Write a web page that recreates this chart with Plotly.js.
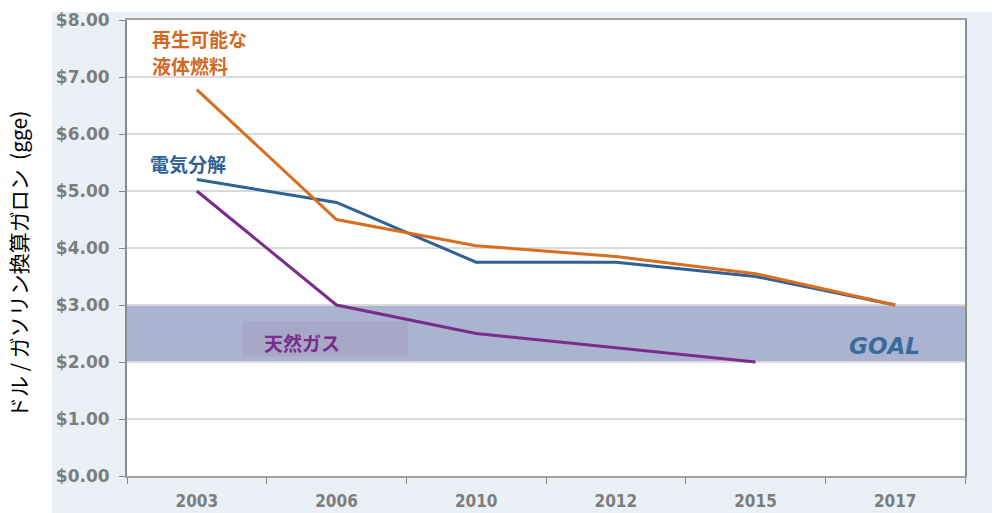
<!DOCTYPE html>
<html>
<head>
<meta charset="utf-8">
<script src="https://cdn.plot.ly/plotly-3.0.1.min.js"></script>
<style>
  html, body { margin: 0; padding: 0; background: #ffffff; }
  #chart { width: 992px; height: 513px; }
</style>
</head>
<body>
<div id="chart"></div>
<script>
// years on the x axis
var years = ['2003', '2006', '2010', '2012', '2015', '2017'];

// cost per gallon of gasoline equivalent
var renewableLiquid = [6.78, 4.5, 4.04, 3.85, 3.55, 3.0];
var electrolysis = [5.2, 4.8, 3.75, 3.75, 3.5, 3.0];
var naturalGas = [5.0, 3.0, 2.5, 2.25, 2.0, null];

// target band
var goalLow = 2.0;
var goalHigh = 3.0;

var yTicks = [0, 1, 2, 3, 4, 5, 6, 7, 8];

window.onload = buildChart;

function makeLine(yValues, color, name) {
    return {
        x: years,
        y: yValues,
        type: 'scatter',
        mode: 'lines',
        name: name,
        line: {color: color, width: 3},
        hoverinfo: 'x+y'
    };
}

function buildChart() {
    var data = [
        makeLine(electrolysis, '#2f6197', '電気分解'),
        makeLine(naturalGas, '#7a2c8c', '天然ガス'),
        makeLine(renewableLiquid, '#d86e20', '再生可能な液体燃料')
    ];

    var labelFont = {family: 'Noto Sans CJK JP, sans-serif', size: 19, weight: 'bold'};

    var layout = {
        width: 992,
        height: 513,
        margin: {l: 127, r: 27, t: 20, b: 37},
        paper_bgcolor: '#eaf0f6',
        plot_bgcolor: '#ffffff',
        showlegend: false,
        xaxis: {
            type: 'category',
            range: [-0.5, 5.5],
            tickson: 'boundaries',
            ticks: 'outside',
            ticklen: 6,
            tickcolor: '#888888',
            showgrid: false,
            showline: true,
            linecolor: '#a0a0a0',
            linewidth: 2,
            mirror: true,
            ticklabelstandoff: 9,
            tickfont: {family: 'DejaVu Sans Condensed, sans-serif', size: 17, color: '#7d7d7d', weight: 'bold'}
        },
        yaxis: {
            range: [0, 8],
            tickvals: yTicks,
            tickformat: '$.2f',
            ticks: 'outside',
            ticklen: 6,
            tickcolor: '#888888',
            showline: true,
            linecolor: '#8c8c8c',
            linewidth: 2,
            mirror: true,
            gridcolor: '#dadada',
            gridwidth: 2,
            zeroline: false,
            ticklabelstandoff: 6,
            tickfont: {family: 'DejaVu Sans, sans-serif', size: 17, color: '#7d7d7d', weight: 'bold'}
        },
        shapes: [
            // goal band
            {type: 'rect', xref: 'paper', yref: 'y', x0: 0, x1: 1, y0: goalLow, y1: goalHigh,
             fillcolor: '#aab4d1', line: {width: 0}, layer: 'below'},
            {type: 'line', xref: 'paper', yref: 'y', x0: 0, x1: 1, y0: goalLow, y1: goalLow,
             line: {color: '#9a9a9a', width: 2, dash: 'dot'}, layer: 'below'},
            // box behind the natural gas label
            {type: 'rect', xref: 'paper', yref: 'paper', x0: 0.138, x1: 0.335, y0: 0.262, y1: 0.340,
             fillcolor: '#a6a8c6', line: {width: 0}, layer: 'below'},
            // white page edges
            {type: 'rect', xref: 'paper', yref: 'paper', x0: -0.2, x1: 1.1, y0: 1.0175, y1: 1.1,
             fillcolor: '#ffffff', line: {width: 0}, layer: 'below'},
            {type: 'rect', xref: 'paper', yref: 'paper', x0: -0.2, x1: -0.0895, y0: -0.2, y1: 1.1,
             fillcolor: '#ffffff', line: {width: 0}, layer: 'below'}
        ],
        annotations: [
            {xref: 'paper', yref: 'paper', x: -0.130, y: 0.463, xanchor: 'center', yanchor: 'middle',
             textangle: -90, text: 'ドル / ガソリン換算ガロン  (gge)', showarrow: false,
             font: {family: 'Noto Sans CJK JP, sans-serif', size: 21, color: '#000000'}},
            {xref: 'paper', yref: 'paper', x: 0.027, y: 0.960, xanchor: 'left', yanchor: 'middle',
             text: '再生可能な', showarrow: false, font: Object.assign({color: '#d2691e'}, labelFont)},
            {xref: 'paper', yref: 'paper', x: 0.027, y: 0.901, xanchor: 'left', yanchor: 'middle',
             text: '液体燃料', showarrow: false, font: Object.assign({color: '#d2691e'}, labelFont)},
            {xref: 'paper', yref: 'paper', x: 0.025, y: 0.686, xanchor: 'left', yanchor: 'middle',
             text: '電気分解', showarrow: false, font: Object.assign({color: '#2f6197'}, labelFont)},
            {xref: 'paper', yref: 'paper', x: 0.161, y: 0.292, xanchor: 'left', yanchor: 'middle',
             text: '天然ガス', showarrow: false, font: Object.assign({color: '#7a2c8c'}, labelFont)},
            {xref: 'paper', yref: 'paper', x: 0.904, y: 0.285, xanchor: 'center', yanchor: 'middle',
             text: '<i>GOAL</i>', showarrow: false,
             font: {family: 'DejaVu Sans, sans-serif', size: 23, color: '#3b6b9b', weight: 'bold'}}
        ]
    };

    Plotly.newPlot('chart', data, layout, {staticPlot: true});
}
</script>
</body>
</html>
